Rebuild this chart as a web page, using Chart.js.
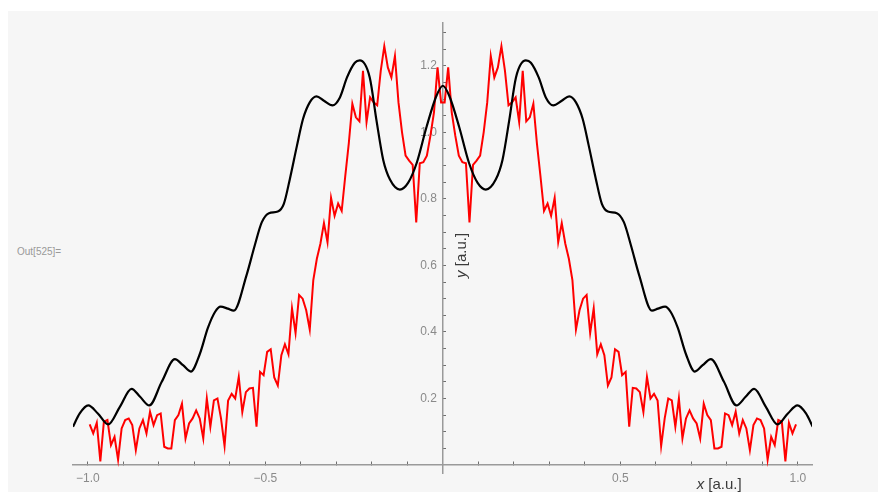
<!DOCTYPE html>
<html>
<head>
<meta charset="utf-8">
<title>Profile</title>
<script src="https://cdn.jsdelivr.net/npm/chart.js@4.4.0/dist/chart.umd.min.js"></script>
<style>
  html, body { margin: 0; padding: 0; background: #fff; }
  #panel { position: absolute; left: 8px; top: 11px; width: 870px; height: 481px; background: #f6f6f6; overflow: hidden; }
  #out { position: absolute; left: 9px; top: 235px; font: 10px "Liberation Sans", Arial, sans-serif; color: #999; }
  #chart { position: absolute; left: 0; top: 0; }
</style>
</head>
<body>
<div id="panel">
  <div id="out">Out[525]=</div>
  <canvas id="chart" width="870" height="481"></canvas>
</div>
<script>
// measured profile (red), sampled every 0.01
const redX = [
  -0.995,-0.985,-0.975,-0.965,-0.955,-0.945,-0.935,-0.925,-0.915,-0.905,
  -0.895,-0.885,-0.875,-0.865,-0.855,-0.845,-0.835,-0.825,-0.815,-0.805,
  -0.795,-0.785,-0.775,-0.765,-0.755,-0.745,-0.735,-0.725,-0.715,-0.705,
  -0.695,-0.685,-0.675,-0.665,-0.655,-0.645,-0.635,-0.625,-0.615,-0.605,
  -0.595,-0.585,-0.575,-0.565,-0.555,-0.545,-0.535,-0.525,-0.515,-0.505,
  -0.495,-0.485,-0.475,-0.465,-0.455,-0.445,-0.435,-0.425,-0.415,-0.405,
  -0.395,-0.385,-0.375,-0.365,-0.355,-0.345,-0.335,-0.325,-0.315,-0.305,
  -0.295,-0.285,-0.275,-0.265,-0.255,-0.245,-0.235,-0.225,-0.215,-0.205,
  -0.195,-0.185,-0.175,-0.165,-0.155,-0.145,-0.135,-0.125,-0.115,-0.105,
  -0.095,-0.085,-0.075,-0.065,-0.055,-0.045,-0.035,-0.025,-0.015,-0.005,
  0.005,0.015,0.025,0.035,0.045,0.055,0.065,0.075,0.085,0.095,
  0.105,0.115,0.125,0.135,0.145,0.155,0.165,0.175,0.185,0.195,
  0.205,0.215,0.225,0.235,0.245,0.255,0.265,0.275,0.285,0.295,
  0.305,0.315,0.325,0.335,0.345,0.355,0.365,0.375,0.385,0.395,
  0.405,0.415,0.425,0.435,0.445,0.455,0.465,0.475,0.485,0.495,
  0.505,0.515,0.525,0.535,0.545,0.555,0.565,0.575,0.585,0.595,
  0.605,0.615,0.625,0.635,0.645,0.655,0.665,0.675,0.685,0.695,
  0.705,0.715,0.725,0.735,0.745,0.755,0.765,0.775,0.785,0.795,
  0.805,0.815,0.825,0.835,0.845,0.855,0.865,0.875,0.885,0.895,
  0.905,0.915,0.925,0.935,0.945,0.955,0.965,0.975,0.985,0.995
];
const redY = [
  0.122,0.095,0.127,0.011,0.13,0.135,0.06,0.085,0.016,0.11,
  0.135,0.14,0.12,0.045,0.11,0.135,0.095,0.16,0.12,0.15,
  0.155,0.055,0.05,0.05,0.135,0.15,0.184,0.08,0.125,0.14,
  0.164,0.14,0.08,0.2,0.115,0.194,0.2,0.14,0.057,0.194,
  0.214,0.2,0.265,0.159,0.219,0.23,0.232,0.115,0.28,0.27,
  0.34,0.348,0.263,0.239,0.33,0.363,0.333,0.471,0.397,0.511,
  0.5,0.465,0.407,0.556,0.62,0.665,0.727,0.67,0.803,0.749,
  0.786,0.764,0.868,0.967,1.086,1.045,1.033,1.185,1.031,1.105,
  1.09,1.081,1.185,1.259,1.195,1.165,1.229,1.09,1.0,0.93,
  0.915,0.902,0.729,0.907,0.91,0.93,0.99,1.06,1.195,1.09,
  1.09,1.195,1.06,0.99,0.93,0.91,0.907,0.729,0.902,0.915,
  0.93,1.0,1.09,1.229,1.165,1.195,1.259,1.185,1.081,1.09,
  1.105,1.031,1.185,1.033,1.045,1.086,0.967,0.868,0.764,0.786,
  0.749,0.803,0.67,0.727,0.665,0.62,0.556,0.407,0.465,0.5,
  0.511,0.397,0.471,0.333,0.363,0.33,0.239,0.263,0.348,0.34,
  0.27,0.28,0.115,0.232,0.23,0.219,0.159,0.265,0.2,0.214,
  0.194,0.057,0.14,0.2,0.194,0.115,0.2,0.08,0.14,0.164,
  0.14,0.125,0.08,0.184,0.15,0.135,0.05,0.05,0.055,0.155,
  0.15,0.12,0.16,0.095,0.135,0.11,0.045,0.12,0.14,0.135,
  0.11,0.016,0.085,0.06,0.135,0.13,0.011,0.127,0.095,0.122
];

// model curve (black)
const blackX = [
  -1.042,-1.023,-0.999,-0.972,-0.943,-0.910,-0.877,-0.853,-0.827,-0.792,
  -0.755,-0.732,-0.710,-0.685,-0.662,-0.642,-0.626,-0.606,-0.589,-0.553,
  -0.530,-0.510,-0.490,-0.465,-0.448,-0.431,-0.411,-0.394,-0.375,-0.356,
  -0.335,-0.311,-0.290,-0.270,-0.248,-0.234,-0.206,-0.187,-0.168,-0.149,
  -0.121,-0.098,-0.074,-0.046,-0.018,0,
  0.018,0.046,0.074,0.098,0.121,0.149,0.168,0.187,0.206,0.234,
  0.248,0.270,0.290,0.311,0.335,0.356,0.375,0.394,0.411,0.431,
  0.448,0.465,0.490,0.510,0.530,0.553,0.589,0.606,0.626,0.642,
  0.662,0.685,0.710,0.732,0.755,0.792,0.827,0.853,0.877,0.910,
  0.943,0.972,0.999,1.023,1.042
];
const blackY = [
  0.115,0.155,0.179,0.155,0.122,0.175,0.229,0.205,0.179,0.25,
  0.318,0.30,0.281,0.333,0.412,0.46,0.476,0.47,0.464,0.571,
  0.66,0.73,0.757,0.762,0.785,0.86,0.96,1.04,1.09,1.108,
  1.095,1.081,1.105,1.165,1.209,1.216,1.165,1.036,0.917,0.858,
  0.828,0.848,0.907,1.016,1.110,1.14,
  1.110,1.016,0.907,0.848,0.828,0.858,0.917,1.036,1.165,1.216,
  1.209,1.165,1.105,1.081,1.095,1.108,1.09,1.04,0.96,0.86,
  0.785,0.762,0.757,0.73,0.66,0.571,0.464,0.47,0.476,0.46,
  0.412,0.333,0.281,0.30,0.318,0.25,0.179,0.205,0.229,0.175,
  0.122,0.155,0.179,0.155,0.115
];

// ticks
const xTicks = [-1.0,-0.9,-0.8,-0.7,-0.6,-0.5,-0.4,-0.3,-0.2,-0.1,0.1,0.2,0.3,0.4,0.5,0.6,0.7,0.8,0.9,1.0];
const xTickLabels = {"-1": "\u22121.0", "-0.5": "\u22120.5", "0.5": "0.5", "1": "1.0"};
const yTicks = [0.05,0.1,0.15,0.2,0.25,0.3,0.35,0.4,0.45,0.5,0.55,0.6,0.65,0.7,0.75,0.8,0.85,0.9,0.95,1.0,1.05,1.1,1.15,1.2,1.25,1.3];
const yTickLabels = {"0.2": "0.2", "0.4": "0.4", "0.6": "0.6", "0.8": "0.8", "1": "1.0", "1.2": "1.2"};

const FONT = '"Liberation Sans", Arial, sans-serif';

const axisTitles = {
    id: "axisTitles",
    afterDraw(chart) {
        const ctx = chart.ctx;
        const xs = chart.scales.x;
        const ys = chart.scales.y;
        const x0 = xs.getPixelForValue(0);
        const y0 = ys.getPixelForValue(0);
        ctx.save();
        ctx.fillStyle = "#3a3a3a";
        ctx.textBaseline = "alphabetic";
        const it = "italic 15px " + FONT;
        const rg = "15px " + FONT;

        // x title, bottom right
        let px = xs.getPixelForValue(0.715);
        const by = y0 + 24;
        ctx.font = it;
        ctx.fillText("x", px, by);
        px += ctx.measureText("x").width;
        ctx.font = rg;
        ctx.fillText(" [a.u.]", px, by);

        // y title, rotated next to the vertical axis
        ctx.font = it;
        const w1 = ctx.measureText("y").width;
        ctx.font = rg;
        const w2 = ctx.measureText(" [a.u.]").width;
        ctx.translate(x0 + 23.5, ys.getPixelForValue(0.63));
        ctx.rotate(-Math.PI / 2);
        ctx.font = it;
        ctx.fillText("y", -(w1 + w2) / 2, 0);
        ctx.font = rg;
        ctx.fillText(" [a.u.]", -(w1 + w2) / 2 + w1, 0);
        ctx.restore();
    }
};

new Chart(document.getElementById("chart"), {
    type: "scatter",
    data: {
        datasets: [
            {
                label: "model",
                data: blackX.map((x, i) => ({x: x, y: blackY[i]})),
                showLine: true,
                borderColor: "#000000",
                borderWidth: 2.2,
                pointRadius: 0,
                cubicInterpolationMode: "monotone",
                order: 0
            },
            {
                label: "measured",
                data: redX.map((x, i) => ({x: x, y: redY[i]})),
                showLine: true,
                borderColor: "#ff0000",
                borderWidth: 2,
                pointRadius: 0,
                tension: 0,
                order: 1
            }
        ]
    },
    options: {
        responsive: false,
        animation: false,
        layout: { padding: { left: 65, right: 66, top: 7, bottom: 19 } },
        plugins: { legend: { display: false }, tooltip: { enabled: false } },
        scales: {
            x: {
                type: "linear",
                position: { y: 0 },
                min: -1.042,
                max: 1.04,
                afterBuildTicks: (s) => { s.ticks = xTicks.map(v => ({value: v})); },
                ticks: {
                    autoSkip: false,
                    maxRotation: 0,
                    padding: 10,
                    color: "#8a8a8a",
                    font: { family: FONT, size: 12 },
                    callback: (v) => xTickLabels[String(v)] || ""
                },
                grid: { display: true, drawOnChartArea: false, tickLength: -4, tickColor: "#6e6e6e", tickWidth: 1 },
                border: { color: "#9a9a9a", width: 1.5 }
            },
            y: {
                type: "linear",
                position: { x: 0 },
                min: -0.024,
                max: 1.328,
                afterBuildTicks: (s) => { s.ticks = yTicks.map(v => ({value: v})); },
                ticks: {
                    autoSkip: false,
                    padding: 5,
                    color: "#8a8a8a",
                    font: { family: FONT, size: 12 },
                    callback: (v) => yTickLabels[String(v)] ? yTickLabels[String(v)] + "\u2002" : ""
                },
                grid: { display: true, drawOnChartArea: false, tickLength: -4, tickColor: "#6e6e6e", tickWidth: 1 },
                border: { color: "#9a9a9a", width: 1.5 }
            }
        }
    },
    plugins: [axisTitles]
});
</script>
</body>
</html>
